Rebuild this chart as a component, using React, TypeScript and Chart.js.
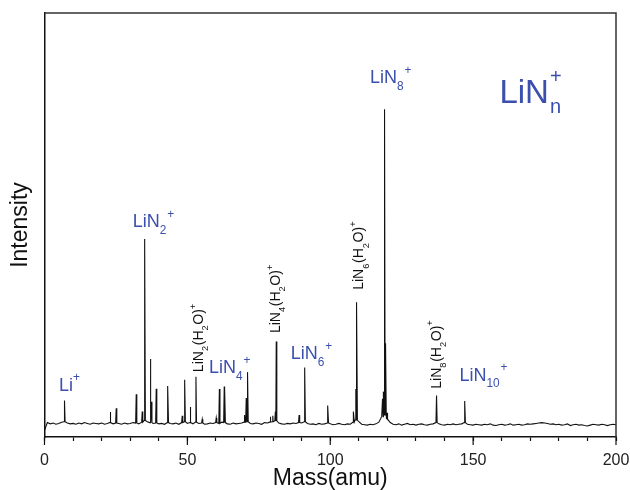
import { useEffect, useRef } from 'react';
import { Chart, registerables } from 'chart.js';

Chart.register(...registerables);

// ---------- data ----------
const massMin = 0;
const massMax = 200;
const majorTickValues = [0, 50, 100, 150, 200];

// baseline intensity, one value per amu from 0 to 200
const baselineIntensity = [
  1.6, 3.4, 3.1, 3.3, 3.0, 3.2, 3.5, 3.6, 3.3, 3.1,
  3.2, 3.0, 3.3, 3.1, 3.4, 3.2, 3.0, 3.3, 3.2, 3.1,
  3.3, 3.0, 3.2, 3.4, 3.1, 3.3, 3.2, 3.0, 3.3, 3.1,
  3.2, 3.4, 3.3, 3.1, 3.5, 3.9, 3.6, 3.4, 3.2, 3.3,
  3.1, 3.2, 3.0, 3.4, 3.2, 3.1, 3.3, 3.0, 3.4, 3.6,
  3.2, 3.4, 3.1, 3.5, 3.2, 3.3, 3.0, 3.1, 3.3, 3.2,
  3.4, 3.2, 3.5, 3.4, 3.1, 3.0, 3.3, 3.1, 3.2, 3.3,
  3.5, 3.6, 3.2, 3.1, 3.3, 3.2, 3.0, 3.4, 3.3, 3.5,
  3.6, 3.8, 3.3, 3.1, 3.0, 3.2, 3.1, 3.3, 3.2, 3.4,
  3.3, 3.6, 3.2, 3.0, 3.1, 2.9, 3.2, 3.0, 3.1, 3.3,
  3.1, 2.9, 3.0, 3.2, 3.0, 2.9, 3.1, 3.0, 3.5, 4.0,
  3.6, 3.0, 2.9, 2.8, 3.0, 2.9, 3.1, 3.5, 4.8, 5.2,
  4.2, 3.4, 3.0, 2.9, 3.1, 2.8, 3.0, 3.2, 2.9, 3.0,
  2.8, 3.0, 3.1, 2.9, 2.8, 3.0, 3.1, 3.4, 3.1, 2.9,
  2.8, 3.0, 2.9, 3.1, 2.9, 3.0, 3.1, 3.4, 3.0, 2.9,
  2.8, 3.0, 2.9, 2.8, 3.0, 2.9, 3.1, 2.8, 2.7, 2.9,
  3.0, 2.8, 2.9, 3.1, 2.8, 2.9, 3.0, 2.8, 2.9, 3.1,
  3.0, 3.1, 3.2, 3.3, 3.4, 3.3, 3.2, 3.0, 3.1, 2.9,
  3.0, 2.8, 2.9, 3.1, 2.7, 2.9, 3.0, 2.8, 2.9, 2.7,
  2.6, 2.8, 3.0, 2.9, 2.8, 3.0, 2.9, 2.7, 2.9, 3.0,
  2.9,
];

// peak positions (amu) and heights (same units as baseline)
const peakMass = [
  7.0, 23.0, 25.1, 32.1, 34.2, 35.1, 37.0, 37.4, 39.1, 43.2,
  48.2, 49.1, 51.0, 53.0, 55.2, 60.1, 61.2, 62.9, 63.1, 70.0,
  70.6, 71.1, 79.0, 79.9, 80.8, 81.1, 89.1, 91.1, 99.2, 108.2,
  108.9, 109.3, 118.3, 118.7, 119.1, 119.4, 119.9, 137.2, 147.1,
];
const peakIntensity = [
  8.6, 5.9, 6.8, 10.1, 6.0, 46.7, 18.4, 8.3, 11.4, 12.0,
  5.0, 13.5, 7.1, 14.2, 4.2, 4.5, 11.3, 11.9, 11.6, 5.2,
  9.2, 15.3, 4.8, 5.0, 6.0, 22.5, 5.2, 16.4, 7.4, 6.0,
  11.3, 31.8, 9.0, 10.7, 77.3, 22.1, 5.7, 9.8, 8.5,
];

// ---------- annotations (text, anchor in data units) ----------
type Part = [string, 'n' | 'sub' | 'sup'];
const ionLabels: { parts: Part[]; mass: number; intensity: number }[] = [
  { parts: [['Li', 'n'], ['+', 'sup']], mass: 5.1, intensity: 10.9 },
  { parts: [['LiN', 'n'], ['2', 'sub'], ['+', 'sup']], mass: 30.9, intensity: 49.5 },
  { parts: [['LiN', 'n'], ['4', 'sub'], ['+', 'sup']], mass: 57.6, intensity: 15.0 },
  { parts: [['LiN', 'n'], ['6', 'sub'], ['+', 'sup']], mass: 86.2, intensity: 18.3 },
  { parts: [['LiN', 'n'], ['8', 'sub'], ['+', 'sup']], mass: 113.9, intensity: 83.5 },
  { parts: [['LiN', 'n'], ['10', 'sub'], ['+', 'sup']], mass: 145.2, intensity: 13.3 },
];
const hydrateLabels: { parts: Part[]; mass: number; intensity: number }[] = [
  { parts: [['LiN', 'n'], ['2', 'sub'], ['(H', 'n'], ['2', 'sub'], ['O)', 'n'], ['+', 'sup']], mass: 55.5, intensity: 15.3 },
  { parts: [['LiN', 'n'], ['4', 'sub'], ['(H', 'n'], ['2', 'sub'], ['O)', 'n'], ['+', 'sup']], mass: 82.4, intensity: 24.5 },
  { parts: [['LiN', 'n'], ['6', 'sub'], ['(H', 'n'], ['2', 'sub'], ['O)', 'n'], ['+', 'sup']], mass: 111.6, intensity: 34.7 },
  { parts: [['LiN', 'n'], ['8', 'sub'], ['(H', 'n'], ['2', 'sub'], ['O)', 'n'], ['+', 'sup']], mass: 138.6, intensity: 11.4 },
];
const seriesLabel = { mass: 159.2, intensity: 78.8 };

const FONT = '"Liberation Sans", Arial, Helvetica, sans-serif';
const BLUE = '#3b4fae';

function drawRich(ctx: CanvasRenderingContext2D, x: number, y: number, parts: Part[], size: number) {
  let cx = x;
  for (const [t, k] of parts) {
    const s = k === 'n' ? size : size * 0.66;
    ctx.font = `${s}px ${FONT}`;
    const dy = k === 'sub' ? size * 0.38 : k === 'sup' ? -size * 0.52 : 0;
    ctx.fillText(t, cx, y + dy);
    cx += ctx.measureText(t).width + (k === 'sub' ? size * 0.05 : 0);
  }
}

const annotationPlugin = {
  id: 'annotations',
  afterDraw(chart: any) {
    const { ctx, chartArea, scales } = chart;
    const xs = scales.x;
    const ys = scales.y;
    ctx.save();
    // frame top & right
    ctx.strokeStyle = '#333';
    ctx.lineWidth = 1.5;
    ctx.beginPath();
    ctx.moveTo(chartArea.left, chartArea.top);
    ctx.lineTo(chartArea.right, chartArea.top);
    ctx.lineTo(chartArea.right, chartArea.bottom);
    ctx.stroke();
    // major ticks (longer)
    ctx.strokeStyle = '#111';
    ctx.lineWidth = 1.2;
    for (const v of majorTickValues) {
      const px = xs.getPixelForValue(v);
      ctx.beginPath();
      ctx.moveTo(px, chartArea.bottom);
      ctx.lineTo(px, chartArea.bottom + 8);
      ctx.stroke();
    }
    ctx.textBaseline = 'alphabetic';
    ctx.textAlign = 'left';
    // blue ion labels
    ctx.fillStyle = BLUE;
    for (const l of ionLabels) {
      drawRich(ctx, xs.getPixelForValue(l.mass), ys.getPixelForValue(l.intensity), l.parts, 18);
    }
    // big series label LiN_n^+
    {
      const x = xs.getPixelForValue(seriesLabel.mass);
      const y = ys.getPixelForValue(seriesLabel.intensity);
      ctx.font = `33px ${FONT}`;
      ctx.fillText('LiN', x, y);
      const w = ctx.measureText('LiN').width;
      ctx.font = `20px ${FONT}`;
      ctx.fillText('+', x + w + 1, y - 20);
      ctx.fillText('n', x + w + 1, y + 10);
    }
    // black rotated hydrate labels
    ctx.fillStyle = '#111';
    for (const l of hydrateLabels) {
      ctx.save();
      ctx.translate(xs.getPixelForValue(l.mass), ys.getPixelForValue(l.intensity));
      ctx.rotate(-Math.PI / 2);
      drawRich(ctx, 0, 0, l.parts, 14);
      ctx.restore();
    }
    ctx.restore();
  },
};

function buildSpectrum() {
  const pts: { x: number; y: number }[] = [];
  baselineIntensity.forEach((v, i) => pts.push({ x: massMin + i, y: v }));
  peakMass.forEach((m, i) => {
    const foot = baselineIntensity[Math.round(m) - massMin];
    pts.push({ x: m - 0.2, y: foot });
    pts.push({ x: m, y: peakIntensity[i] });
    pts.push({ x: m + 0.2, y: foot });
  });
  pts.sort((a, b) => a.x - b.x);
  return pts;
}

export default function App() {
  const ref = useRef<HTMLCanvasElement | null>(null);
  useEffect(() => {
    document.body.style.margin = '0';
    const canvas = ref.current;
    if (!canvas) return;
    const chart = new Chart(canvas, {
      type: 'line',
      data: {
        datasets: [
          {
            data: buildSpectrum(),
            borderColor: '#111',
            borderWidth: 1.1,
            pointRadius: 0,
            tension: 0,
            fill: false,
          },
        ],
      },
      options: {
        responsive: false,
        animation: false,
        parsing: false as any,
        layout: { padding: { top: 13, right: 0, left: 0, bottom: 0 } },
        plugins: { legend: { display: false }, tooltip: { enabled: false } },
        scales: {
          x: {
            type: 'linear',
            min: massMin,
            max: massMax,
            afterFit: (s: any) => {
              s.height = 53;
              s.paddingRight = 14;
            },
            border: { display: true, color: '#111', width: 1.5 },
            grid: { display: true, drawOnChartArea: false, drawTicks: true, tickLength: 4, color: '#111', tickWidth: 1.2 },
            ticks: {
              stepSize: 10,
              autoSkip: false,
              maxRotation: 0,
              padding: 10,
              color: '#222',
              font: { family: FONT, size: 16 },
              callback: (v: any) => (Number(v) % 50 === 0 ? String(v) : ''),
            },
            title: {
              display: true,
              text: 'Mass(amu)',
              color: '#111',
              font: { family: FONT, size: 23, lineHeight: 1 },
              padding: { top: 0, bottom: 0 },
            },
          },
          y: {
            type: 'linear',
            min: 0,
            max: 100,
            afterFit: (s: any) => {
              s.width = 44.5;
            },
            border: { display: true, color: '#111', width: 1.5 },
            grid: { display: false },
            ticks: { display: false },
            title: {
              display: true,
              text: 'Intensity',
              color: '#111',
              font: { family: FONT, size: 23, lineHeight: 1.2 },
              padding: { top: 7, bottom: 0 },
            },
          },
        },
      },
      plugins: [annotationPlugin],
    });
    return () => chart.destroy();
  }, []);
  return <canvas ref={ref} width={630} height={490} style={{ display: 'block' }} />;
}
